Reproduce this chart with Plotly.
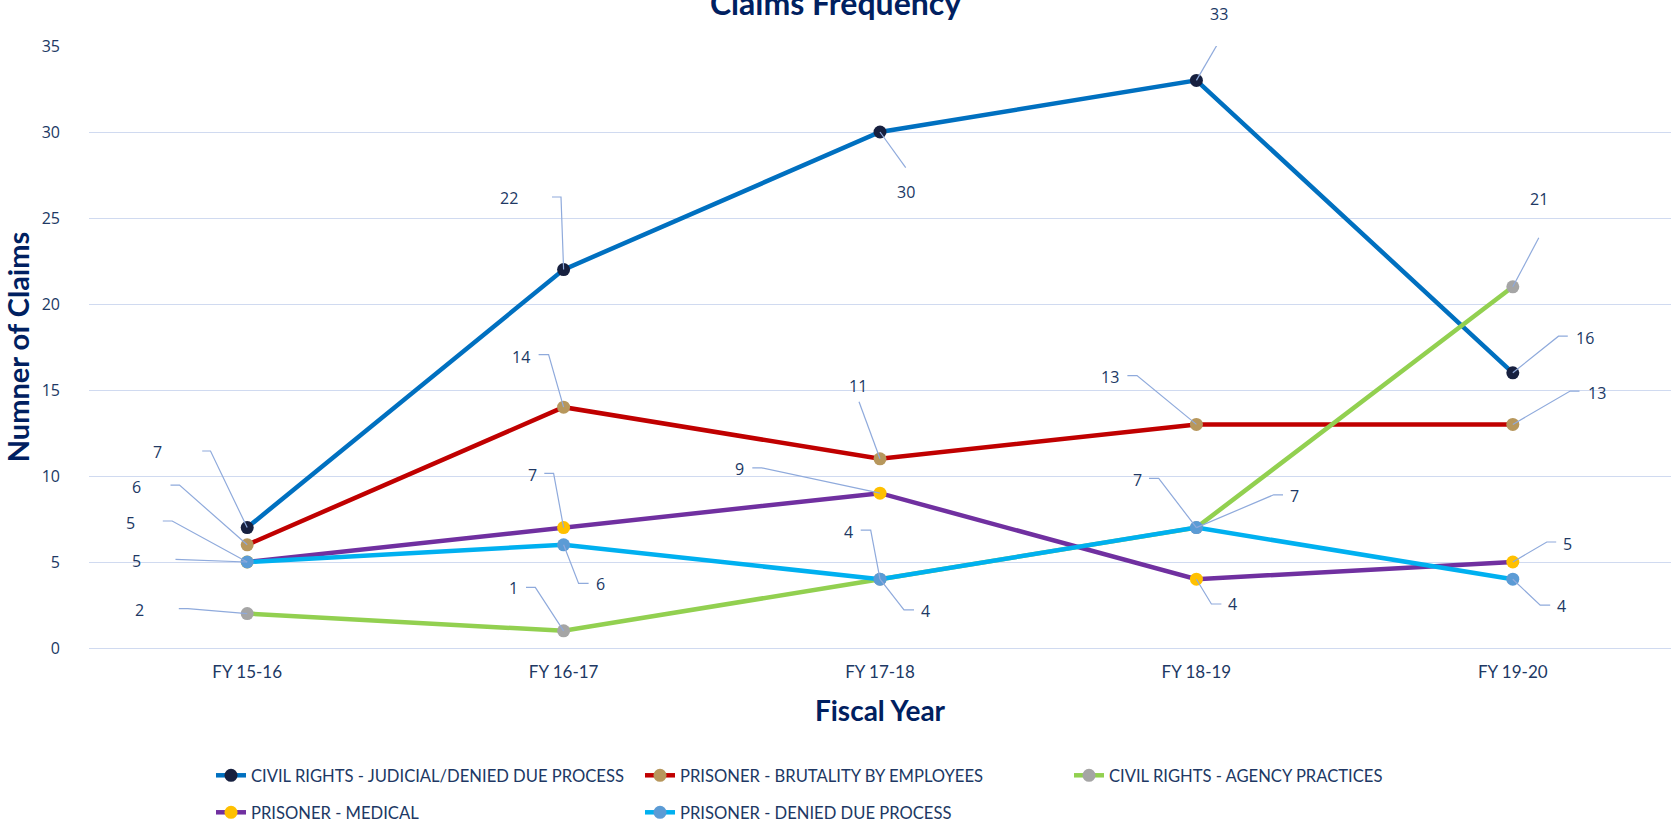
import plotly.graph_objects as go

categories = ["FY 15-16", "FY 16-17", "FY 17-18", "FY 18-19", "FY 19-20"]

judicial = [7, 22, 30, 33, 16]
brutality = [6, 14, 11, 13, 13]
agency = [2, 1, 4, 7, 21]
medical = [5, 7, 9, 4, 5]
denied = [5, 6, 4, 7, 4]

names = [
    "CIVIL RIGHTS - JUDICIAL/DENIED DUE PROCESS",
    "PRISONER - BRUTALITY BY EMPLOYEES",
    "CIVIL RIGHTS - AGENCY PRACTICES",
    "PRISONER - MEDICAL",
    "PRISONER - DENIED DUE PROCESS",
]

# styling
line_colors = ["#0070C0", "#C00000", "#92D050", "#7030A0", "#00B0F0"]
marker_colors = ["#17203F", "#B7975C", "#A5A5A5", "#FFC000", "#5B9BD5"]
legend_ids = ["legend", "legend", "legend", "legend2", "legend2"]

# label placement (pixel offsets from point, y down): corner, end, label
label_layout = [
    [((-36.7, -76.6), (-45, -76.6), (-89.4, -76)),
     ((-2.6, -72.6), (-11.6, -72.6), (-55, -72)),
     (None, (25.7, 35.6), (25.7, 60)),
     (None, (22.6, -38.8), (22.3, -66)),
     ((45.7, -36.6), (55, -36.6), (71.7, -35))],
    [((-67.7, -59.7), (-76.7, -59.7), (-110.7, -58)),
     ((-15, -52.6), (-25, -52.6), (-42.6, -50.6)),
     (None, (-21, -57), (-21.7, -72.6)),
     ((-59.4, -48.8), (-69, -48.8), (-86.7, -47.6)),
     ((57.4, -33.3), (66.7, -33.3), (84, -31.7))],
    [((-59.4, -5), (-68.4, -5), (-107.7, -3.6)),
     ((-28.3, -43.4), (-37.6, -43.4), (-50.6, -42.4)),
     ((24, 30.7), (34, 30.7), (45.7, 31.7)),
     ((77.3, -32.8), (86.6, -32.8), (98.3, -32)),
     (None, (26, -49), (25.7, -88.3))],
    [((-75, -41), (-84.4, -41), (-116.7, -38.7)),
     ((-10, -54.3), (-19.3, -54.3), (-31.6, -52.6)),
     ((-118.3, -25.3), (-127.7, -25.3), (-140.7, -24)),
     ((15, 24.8), (25, 24.8), (36, 25.2)),
     ((34, -20), (43.4, -20), (55, -18.4))],
    [((-65, -2.4), (-71.7, -2.7), (-111, -1)),
     ((15, 38.6), (25, 38.6), (36.7, 39.3)),
     ((-9.3, -49), (-19.3, -49), (-31.7, -47.3)),
     ((-37.7, -49.2), (-47.4, -49.2), (-59.4, -48)),
     ((27.4, 26), (37.4, 26), (48.4, 26.7))],
]

series = [judicial, brutality, agency, medical, denied]

NAVY = "#002060"
LABEL_NAVY = "#203864"
LEADER = "#8FAADC"
GRID = "#D0DAF0"

fig = go.Figure()
for i, vals in enumerate(series):
    fig.add_trace(go.Scatter(
        x=categories, y=vals, name=names[i], mode="lines+markers",
        line=dict(color=line_colors[i], width=4.5),
        marker=dict(color=marker_colors[i], size=13),
        legend=legend_ids[i],
    ))

shapes = []
annotations = []
for i, vals in enumerate(series):
    for j, v in enumerate(vals):
        corner, end, lab = label_layout[i][j]
        path = "M0,0"
        if corner is not None:
            path += " L%.1f,%.1f" % (corner[0], -corner[1])
        path += " L%.1f,%.1f" % (end[0], -end[1])
        shapes.append(dict(
            type="path", xref="x", yref="y", xsizemode="pixel", ysizemode="pixel",
            xanchor=categories[j], yanchor=v, path=path,
            line=dict(color=LEADER, width=1.2), layer="above",
        ))
        annotations.append(dict(
            x=categories[j], y=v, xref="x", yref="y", text=str(v), showarrow=False,
            xshift=lab[0], yshift=-lab[1], xanchor="center", yanchor="middle",
            font=dict(family="Open Sans", size=16, color=LABEL_NAVY),
        ))

legend_common = dict(orientation="h", xref="container", xanchor="left", yref="container",
                     yanchor="top", entrywidth=384, entrywidthmode="pixels",
                     font=dict(family="Lato", size=16.6, color=LABEL_NAVY),
                     bgcolor="rgba(0,0,0,0)")

fig.update_layout(
    width=1671, height=825,
    margin=dict(l=89, r=0, t=46, b=177),
    paper_bgcolor="white", plot_bgcolor="white",
    title=dict(text="<b>Claims Frequency</b>", x=0.5, xref="container", xanchor="center",
               y=1 - 15 / 825, yref="container", yanchor="bottom",
               font=dict(family="Lato", size=32, color=NAVY)),
    xaxis=dict(
        type="category", categoryorder="array", categoryarray=categories,
        range=[-0.5, 4.5], showgrid=False, zeroline=False, showline=False,
        ticks="", tickfont=dict(family="Lato", size=17, color=LABEL_NAVY),
        ticklabelstandoff=12,
        title=dict(text="<b>Fiscal Year</b>", font=dict(family="Lato", size=28, color=NAVY),
                   standoff=20),
    ),
    yaxis=dict(
        range=[0, 35], dtick=5, showgrid=True, gridcolor=GRID, gridwidth=1.3,
        zeroline=True, zerolinecolor=GRID, zerolinewidth=1.3, showline=False, ticks="",
        tickfont=dict(family="Open Sans", size=16, color=LABEL_NAVY),
        ticklabelstandoff=28,
        title=dict(text="<b>Numner of Claims</b>", font=dict(family="Lato", size=29, color=NAVY),
                   standoff=6),
    ),
    legend=dict(legend_common, x=211 / 1671, y=1 - 758 / 825),
    legend2=dict(legend_common, x=211 / 1671, y=1 - 795 / 825),
    shapes=shapes,
    annotations=annotations,
    showlegend=True,
)

fig.write_html("out.html", config={"displayModeBar": False},
               post_script="document.body.style.margin='0';document.body.style.overflow='hidden';")
